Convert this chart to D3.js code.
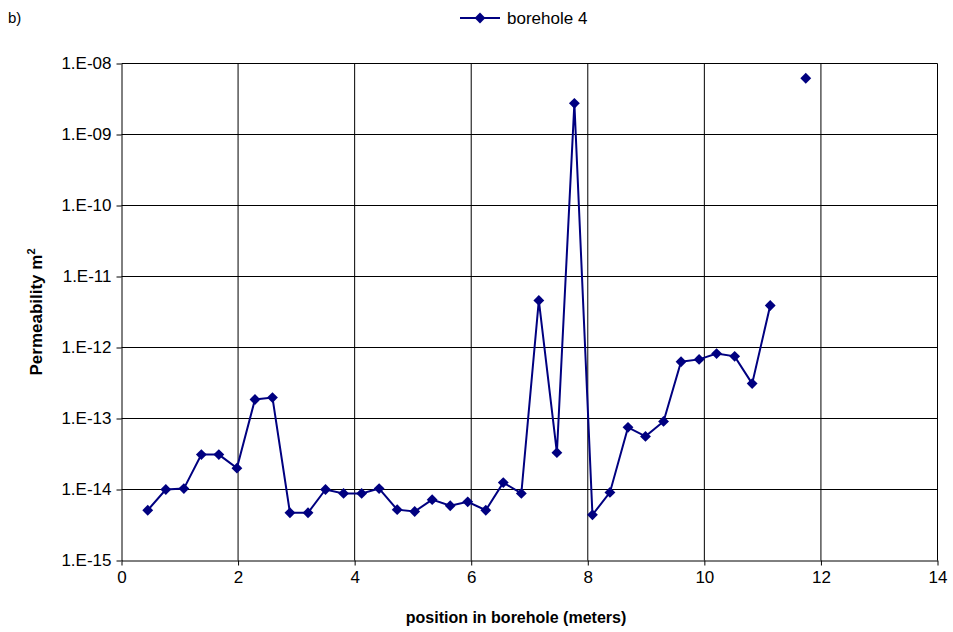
<!DOCTYPE html>
<html>
<head>
<meta charset="utf-8">
<script src="https://cdn.jsdelivr.net/npm/d3@7"></script>
<style>
  body { margin: 0; background: #fff; }
  svg { display: block; font-family: "Liberation Sans", Arial, sans-serif; }
</style>
</head>
<body>
<svg id="chart" width="953" height="632"></svg>
<script>
// Measurement positions along the borehole (meters)
const positions = [0.45, 0.76, 1.07, 1.37, 1.67, 1.98, 2.29, 2.59, 2.89, 3.20,
  3.50, 3.81, 4.12, 4.42, 4.73, 5.03, 5.33, 5.64, 5.94, 6.25,
  6.55, 6.86, 7.16, 7.47, 7.77, 8.08, 8.38, 8.69, 8.99, 9.30,
  9.60, 9.91, 10.21, 10.52, 10.82, 11.13, 11.43, 11.74];

// Permeability (m^2) at each position; null = no measurement
const permeability = [5.1e-15, 1.0e-14, 1.03e-14, 3.1e-14, 3.1e-14, 2.0e-14, 1.85e-13, 1.97e-13, 4.7e-15, 4.7e-15,
  1.0e-14, 8.8e-15, 8.8e-15, 1.03e-14, 5.2e-15, 4.9e-15, 7.2e-15, 5.9e-15, 6.7e-15, 5.1e-15,
  1.25e-14, 8.8e-15, 4.6e-12, 3.3e-14, 2.75e-9, 4.4e-15, 9.1e-15, 7.5e-14, 5.6e-14, 9.1e-14,
  6.3e-13, 6.8e-13, 8.2e-13, 7.5e-13, 3.1e-13, 3.9e-12, null, 6.2e-9];

const xTicks = [0, 2, 4, 6, 8, 10, 12, 14];
const yTicks = [1e-15, 1e-14, 1e-13, 1e-12, 1e-11, 1e-10, 1e-9, 1e-8];
const yTickLabels = ["1.E-15", "1.E-14", "1.E-13", "1.E-12", "1.E-11", "1.E-10", "1.E-09", "1.E-08"];
const seriesName = "borehole 4";

const color = "#000080";
const font = "Liberation Sans, Arial, sans-serif";
const svg = d3.select("#chart");
const margin = { left: 121.5, right: 937.5, top: 63.5, bottom: 560.5 };

const x = d3.scaleLinear().domain([0, 14]).range([margin.left, margin.right]);
const y = d3.scaleLog().domain([1e-15, 1e-8]).range([margin.bottom, margin.top]);

// Grid
const grid = svg.append("g");
grid.selectAll(".vg").data(xTicks.slice(1)).join("line")
  .attr("x1", d => x(d)).attr("x2", d => x(d))
  .attr("y1", margin.top).attr("y2", margin.bottom)
  .attr("stroke", "#000").attr("stroke-width", 1);
grid.selectAll(".hg").data(yTicks.slice(1)).join("line")
  .attr("x1", margin.left).attr("x2", margin.right)
  .attr("y1", d => y(d)).attr("y2", d => y(d))
  .attr("stroke", "#000").attr("stroke-width", 1);

// Axes
const xAxis = d3.axisBottom(x).tickValues(xTicks).tickSize(5).tickSizeOuter(0).tickPadding(5);
const gx = svg.append("g").attr("transform", `translate(0,${margin.bottom})`).call(xAxis);
gx.select(".domain").attr("stroke", "#000");
gx.selectAll("text").attr("font-size", 17).attr("fill", "#000").attr("font-family", font);

const yAxis = d3.axisLeft(y).tickValues(yTicks)
  .tickFormat((d, i) => yTickLabels[i]).tickSize(5).tickSizeOuter(0).tickPadding(5);
const gy = svg.append("g").attr("transform", `translate(${margin.left},0)`).call(yAxis);
gy.select(".domain").attr("stroke", "#000");
gy.selectAll("text").attr("font-size", 17).attr("fill", "#000").attr("font-family", font);

// Series
const pts = positions.map((p, i) => ({ x: p, v: permeability[i] }));
const line = d3.line().defined(d => d.v != null).x(d => x(d.x)).y(d => y(d.v));
svg.append("path").datum(pts).attr("d", line)
  .attr("fill", "none").attr("stroke", color).attr("stroke-width", 2);

const diamond = d3.symbol().type(d3.symbolDiamond2).size(75);
svg.selectAll(".pt").data(pts.filter(d => d.v != null)).join("path")
  .attr("d", diamond)
  .attr("transform", d => `translate(${x(d.x)},${y(d.v)})`)
  .attr("fill", color);

// Titles
svg.append("text").attr("x", 516).attr("y", 623).attr("text-anchor", "middle")
  .attr("font-size", 16).attr("font-weight", "bold").text("position in borehole (meters)");

const yt = svg.append("text").attr("transform", "translate(42,312) rotate(-90)")
  .attr("text-anchor", "middle").attr("font-size", 17).attr("font-weight", "bold");
yt.append("tspan").text("Permeability m");
yt.append("tspan").attr("font-size", 11).attr("dy", -7).text("2");

svg.append("text").attr("x", 8).attr("y", 23).attr("font-size", 15).text("b)");

// Legend
const lg = svg.append("g").attr("transform", "translate(460,18)");
lg.append("line").attr("x1", 0).attr("x2", 40).attr("y1", 0).attr("y2", 0)
  .attr("stroke", color).attr("stroke-width", 2);
lg.append("path").attr("d", diamond).attr("transform", "translate(20,0)").attr("fill", color);
lg.append("text").attr("x", 47).attr("y", 6).attr("font-size", 17).text(seriesName);
</script>
</body>
</html>
